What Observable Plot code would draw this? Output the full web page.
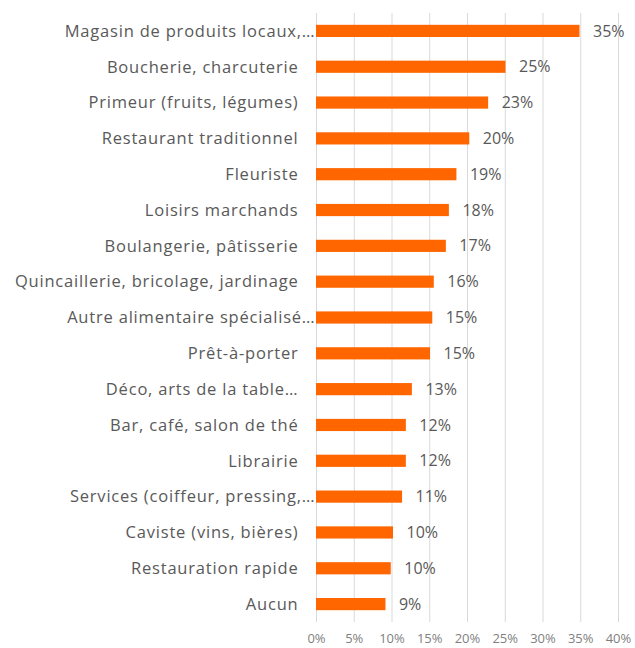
<!DOCTYPE html>
<html>
<head>
<meta charset="utf-8">
<script src="https://cdn.jsdelivr.net/npm/d3@7"></script>
<script src="https://cdn.jsdelivr.net/npm/@observablehq/plot@0.6"></script>
<style>
  html, body { margin: 0; padding: 0; background: #fff; }
  #chart svg { display: block; }
  .lbl text { letter-spacing: 0.8px; }
</style>
</head>
<body>
<div id="chart"></div>
<script>
const categories = [
  "Magasin de produits locaux,…",
  "Boucherie, charcuterie",
  "Primeur (fruits, légumes)",
  "Restaurant traditionnel",
  "Fleuriste",
  "Loisirs marchands",
  "Boulangerie, pâtisserie",
  "Quincaillerie, bricolage, jardinage",
  "Autre alimentaire spécialisé…",
  "Prêt-à-porter",
  "Déco, arts de la table…",
  "Bar, café, salon de thé",
  "Librairie",
  "Services (coiffeur, pressing,…",
  "Caviste (vins, bières)",
  "Restauration rapide",
  "Aucun"
];
const values = [34.9, 25.1, 22.8, 20.3, 18.6, 17.6, 17.2, 15.6, 15.4, 15.1, 12.7, 11.9, 11.9, 11.4, 10.2, 9.9, 9.2];
const xTicks = [0, 5, 10, 15, 20, 25, 30, 35, 40];
// labels that Excel lets overflow up to the bar start
const overflowing = ["Magasin de produits locaux,…", "Autre alimentaire spécialisé…", "Services (coiffeur, pressing,…"];

const data = categories.map((c, i) => ({category: c, value: values[i]}));
const font = "'Open Sans', Lato, sans-serif";

const chart = Plot.plot({
  width: 635,
  height: 648,
  marginTop: 13,
  marginBottom: 26,
  marginLeft: 316,
  marginRight: 17,
  style: {fontFamily: font, background: "#fff"},
  x: {domain: [0, 40], ticks: xTicks},
  y: {domain: categories, paddingInner: 0.66, paddingOuter: 0.33, round: false},
  marks: [
    Plot.gridX(xTicks, {stroke: "#d9d9d9", strokeOpacity: 1, strokeWidth: 1}),
    Plot.barX(data, {x: "value", y: "category", fill: "#ff6600"}),
    Plot.text(data.filter(d => !overflowing.includes(d.category)), {
      x: 0, y: "category", text: "category", textAnchor: "end", dx: -18,
      fill: "#595959", fontSize: 16.5, className: "lbl"
    }),
    Plot.text(data.filter(d => overflowing.includes(d.category)), {
      x: 0, y: "category", text: "category", textAnchor: "end", dx: -1,
      fill: "#595959", fontSize: 16.5, className: "lbl"
    }),
    Plot.text(data, {
      x: "value", y: "category", text: d => Math.round(d.value) + "%",
      textAnchor: "start", dx: 13, fill: "#595959", fontSize: 16
    }),
    Plot.axisX(xTicks, {
      tickSize: 0, tickPadding: 11, tickFormat: d => d + "%",
      fontSize: 13, fill: "#7f7f7f", label: null
    }),
    Plot.axisY({ticks: [], label: null, tickSize: 0})
  ]
});
document.getElementById("chart").appendChild(chart);
</script>
</body>
</html>
